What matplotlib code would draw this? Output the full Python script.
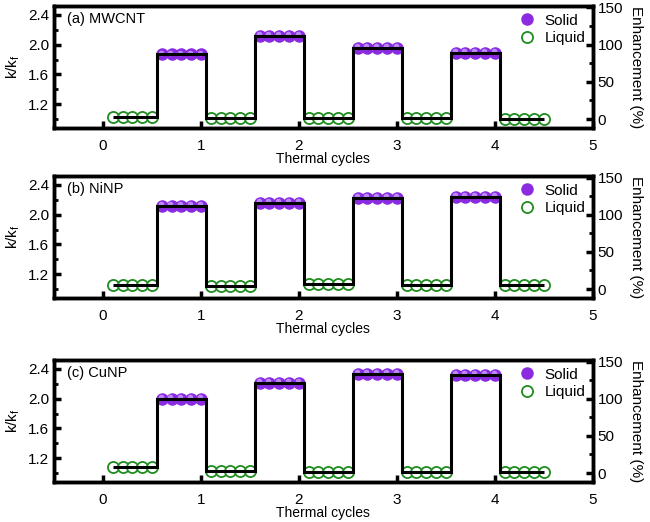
import numpy as np
import matplotlib.pyplot as plt
from matplotlib.transforms import offset_copy
from matplotlib.ticker import MultipleLocator

plt.rcParams['font.family'] = ['Liberation Sans', 'DejaVu Sans']

# Data: plateau levels of k/kf, alternating liquid / solid
labels = ['(a) MWCNT', '(b) NiNP', '(c) CuNP']
levels_a = [1.03, 1.87, 1.01, 2.12, 1.02, 1.96, 1.01, 1.89, 1.00]
levels_b = [1.05, 2.12, 1.04, 2.16, 1.07, 2.23, 1.05, 2.24, 1.05]
levels_c = [1.08, 2.00, 1.03, 2.21, 1.01, 2.33, 1.02, 2.32, 1.02]
all_levels = [levels_a, levels_b, levels_c]

n_pts = 5          # points per plateau
step = 0.1         # spacing between points
edges = [0.1, 0.55, 1.05, 1.55, 2.05, 2.55, 3.05, 3.55, 4.05, 4.5]

purple = '#8A2BE2'
light = '#C8A2FF'
green = '#1E8C1E'

fig = plt.figure(figsize=(6.5, 5.22), dpi=100)
bottoms = [0.7548, 0.4291, 0.0766]
height = 0.2337

for k, levels in enumerate(all_levels):
    ax = fig.add_axes([0.083, bottoms[k], 0.829, height])
    # point positions: plateau j starts at j*0.5 + 0.1
    for j, lev in enumerate(levels):
        x0 = j * 0.5 + 0.1
        xs = x0 + step * np.arange(n_pts)
        ys = np.full(n_pts, lev)
        if j % 2 == 0:
            ax.plot(xs, ys, 'o', ms=8, mfc='white', mec=green, mew=1.3,
                    zorder=2, label='Liquid' if j == 0 else None)
        else:
            ax.plot(xs, ys, 'o', ms=8, color=purple, zorder=2,
                    label='Solid' if j == 1 else None)
            hl = offset_copy(ax.transData, fig=fig, x=-0.8, y=1.2, units='points')
            ax.plot(xs, ys, 'o', ms=4, color=light, mec='none', alpha=0.8,
                    transform=hl, zorder=2.1)
    ax.stairs(levels, edges, baseline=None, color='black', lw=2.2, zorder=3)

    ax.set_xlim(-0.5, 5)
    ax.set_ylim(0.88, 2.52)
    ax.set_xticks(range(0, 6))
    ax.set_yticks([1.2, 1.6, 2.0, 2.4])
    ax.yaxis.set_minor_locator(MultipleLocator(0.2))
    ax.tick_params(axis='both', which='major', direction='in', length=5,
                   width=2.5, labelsize=11)
    ax.tick_params(axis='y', which='minor', direction='in', length=3, width=2)
    ax.tick_params(axis='x', pad=8)
    for sp in ax.spines.values():
        sp.set_linewidth(2.5)
    ax.set_ylabel('k/k$_\\mathregular{f}$', fontsize=11, labelpad=4)
    ax.set_xlabel('Thermal cycles', fontsize=10, labelpad=-1)
    ax.text(0.025, 0.95, labels[k], transform=ax.transAxes, fontsize=10.5,
            va='top', ha='left')

    ax2 = ax.twinx()
    ax2.set_ylim(-12, 152)
    ax2.set_yticks([0, 50, 100, 150])
    ax2.yaxis.set_minor_locator(MultipleLocator(25))
    ax2.tick_params(axis='y', which='major', direction='in', length=5,
                    width=2.5, labelsize=11)
    ax2.tick_params(axis='y', which='minor', direction='in', length=3, width=2)
    for sp in ax2.spines.values():
        sp.set_linewidth(2.5)
    ax2.set_ylabel('Enhancement (%)', fontsize=11, rotation=270, labelpad=14)

    h, l = ax.get_legend_handles_labels()
    order = [l.index('Solid'), l.index('Liquid')]
    ax.legend([h[i] for i in order], [l[i] for i in order], loc='upper right',
              frameon=False, fontsize=11, handletextpad=0.6,
              borderaxespad=0.1, labelspacing=0.25, handlelength=1.0)

fig.savefig('out.png', dpi=100)
